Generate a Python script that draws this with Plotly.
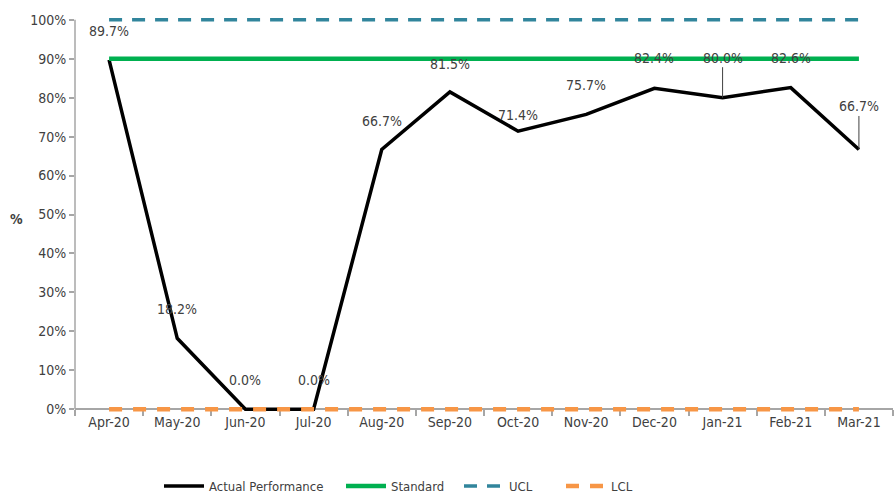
import plotly.graph_objects as go

months = ["Apr-20", "May-20", "Jun-20", "Jul-20", "Aug-20", "Sep-20", "Oct-20",
          "Nov-20", "Dec-20", "Jan-21", "Feb-21", "Mar-21"]
actual = [89.7, 18.2, 0.0, 0.0, 66.7, 81.5, 71.4, 75.7, 82.4, 80.0, 82.6, 66.7]
standard = [90] * 12
ucl = [100] * 12
lcl = [0] * 12
# vertical offset (px) of each data label above its point
label_offsets = [-29, -29, -29, -29, -28, -28, -16, -29, -30, -40, -30, -43]
label_leader = [False, False, False, False, False, False, False, False, False, True, False, True]

FONT = "DejaVu Sans Condensed, Liberation Sans Narrow, sans-serif"
FS = 14
PAD = 1.5  # extra range so the limit lines are not clipped
YMIN, YMAX = 0, 100

fig = go.Figure()
fig.add_trace(go.Scatter(x=months, y=actual, mode="lines", name="Actual Performance",
                         line=dict(color="black", width=3.5), legend="legend"))
fig.add_trace(go.Scatter(x=months, y=standard, mode="lines", name="Standard",
                         line=dict(color="#00B050", width=4.5), legend="legend2"))
fig.add_trace(go.Scatter(x=months, y=ucl, mode="lines", name="UCL",
                         line=dict(color="#31859C", width=3.5, dash="13px,10px"), legend="legend3"))
fig.add_trace(go.Scatter(x=months, y=lcl, mode="lines", name="LCL",
                         line=dict(color="#F79646", width=4.5, dash="13px,11px"), legend="legend4"))

for m, v, off, lead in zip(months, actual, label_offsets, label_leader):
    if lead:
        fig.add_annotation(x=m, y=v, text=f"{v:.1f}%", showarrow=True, arrowhead=0,
                           arrowwidth=1, arrowcolor="#404040", ax=0, ay=off,
                           font=dict(family=FONT, size=FS, color="#404040"))
    else:
        fig.add_annotation(x=m, y=v, text=f"{v:.1f}%", showarrow=False, yshift=-off,
                           font=dict(family=FONT, size=FS, color="#404040"))

fig.add_annotation(xref="paper", yref="paper", x=-0.072, y=0.49, text="<b>%</b>", showarrow=False,
                   xanchor="center", yanchor="middle",
                   font=dict(family=FONT, size=FS, color="#404040"))

# y axis line only between 0% and 100%
fig.add_shape(type="line", xref="paper", yref="y", x0=0, x1=0, y0=YMIN, y1=YMAX,
              line=dict(color="#A6A6A6", width=1.5), layer="below")


def leg(xpx):
    return dict(orientation="h", xref="container", yref="container", x=(xpx - 6) / 896, y=0.016,
                xanchor="left", yanchor="middle", font=dict(family=FONT, size=13, color="#404040"),
                itemwidth=40, bgcolor="rgba(0,0,0,0)")


fig.update_layout(
    width=896, height=494,
    margin=dict(l=75, r=3, t=14, b=79),
    paper_bgcolor="white", plot_bgcolor="white",
    font=dict(family=FONT, size=FS, color="#404040"),
    showlegend=True,
    legend=leg(165), legend2=leg(347), legend3=leg(465), legend4=leg(567),
    xaxis=dict(type="category", range=[-0.5, 11.5], showgrid=False, showline=True,
               anchor="free", position=PAD / (YMAX - YMIN + 2 * PAD), layer="below traces",
               linecolor="#A6A6A6", linewidth=2, ticks="outside", tickson="boundaries",
               ticklen=6, tickcolor="#A6A6A6", tickwidth=1.5,
               tickfont=dict(family=FONT, size=FS, color="#404040")),
    yaxis=dict(range=[YMIN - PAD, YMAX + PAD], tickmode="array",
               tickvals=list(range(0, 101, 10)), ticktext=[f"{t}%" for t in range(0, 101, 10)],
               showgrid=False, showline=False, layer="below traces",
               ticks="outside", ticklen=5,
               tickcolor="#A6A6A6", tickwidth=1.5, zeroline=False,
               tickfont=dict(family=FONT, size=FS, color="#404040")),
)

fig.write_html("out.html")
